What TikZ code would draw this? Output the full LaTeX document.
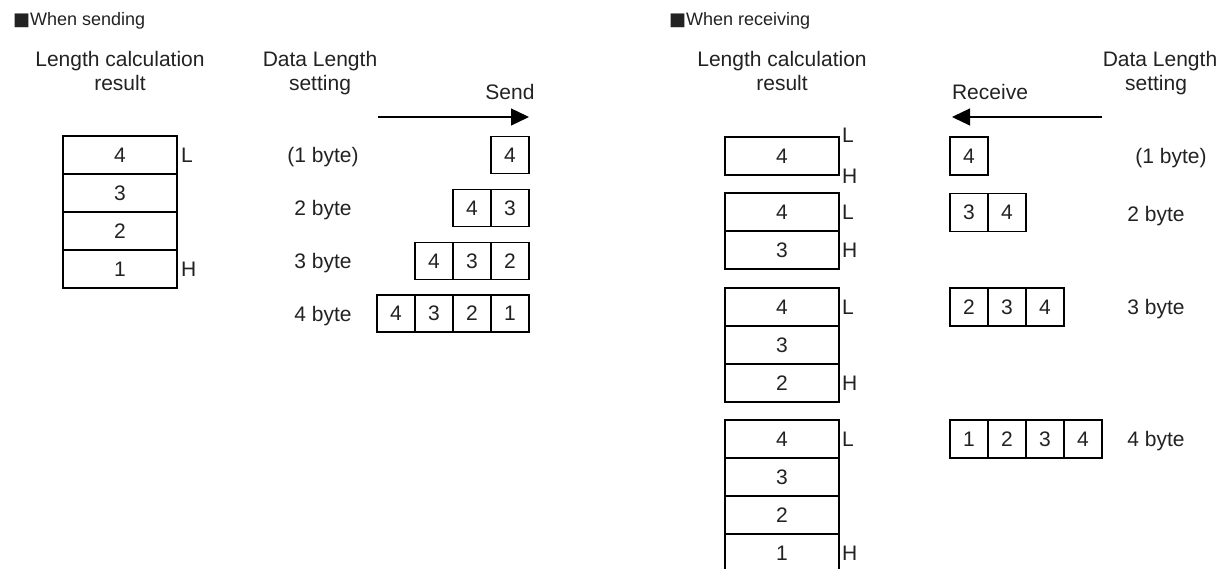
\documentclass[tikz,border=0pt]{standalone}
\usepackage{fontspec}
\setmainfont{Liberation Sans}
\newfontfamily\symfont{DejaVu Sans}
\usetikzlibrary{arrows.meta}
\definecolor{txt}{HTML}{222222}
\begin{document}
\begin{tikzpicture}[x=1pt,y=-1pt,
  cell/.style={draw=black,line width=1.3pt,minimum width=38pt,minimum height=38pt,inner sep=0pt,font=\fontsize{21}{24}\selectfont,text=txt},
  scell/.style={cell,minimum height=37pt},
  wide/.style={cell,minimum width=114pt},
  lbl/.style={font=\fontsize{21}{24}\selectfont,text=txt,inner sep=0pt},
  head/.style={font=\fontsize{18}{20}\selectfont,text=txt,inner sep=0pt,anchor=base west},
  flow/.style={line width=1.3pt,-{Triangle[length=18pt,width=17pt]}}]
\useasboundingbox (0,0) rectangle (1223,569);

% ---------- headings ----------
\node[head] (hs) at (13,26) {{\symfont ■}When sending};
\node[head] (hr) at (669,26) {{\symfont ■}When receiving};

% ---------- sending ----------
\node[lbl,anchor=base] (lcr1) at (120,67) {Length calculation};
\node[lbl,anchor=base] (lcr2) at (120,91) {result};
\node[lbl,anchor=base] (dls1) at (320,67) {Data Length};
\node[lbl,anchor=base] (dls2) at (320,91) {setting};
\node[lbl,anchor=base] (send) at (510,100) {Send};
\coordinate (sa) at (378,117);
\coordinate (sb) at (529,117);
\draw[flow] (sa) -- (sb);

\node[wide] (l4) at (120,155) {4};
\node[wide] (l3) at (120,193) {3};
\node[wide] (l2) at (120,231) {2};
\node[wide] (l1) at (120,269) {1};
\node[lbl,anchor=west] (lL) at (181,155) {L};
\node[lbl,anchor=west] (lH) at (181,269) {H};

\node[lbl,anchor=base] (sb1) at (323,162.5) {(1 byte)};
\node[lbl,anchor=base] (sb2) at (323,215.5) {2 byte};
\node[lbl,anchor=base] (sb3) at (323,268.5) {3 byte};
\node[lbl,anchor=base] (sb4) at (323,321) {4 byte};

\node[scell] (s1a) at (510,155) {4};

\node[scell] (s2a) at (472,208) {4};
\node[scell] (s2b) at (510,208) {3};

\node[scell] (s3a) at (434,261) {4};
\node[scell] (s3b) at (472,261) {3};
\node[scell] (s3c) at (510,261) {2};

\node[scell] (s4a) at (396,313.5) {4};
\node[scell] (s4b) at (434,313.5) {3};
\node[scell] (s4c) at (472,313.5) {2};
\node[scell] (s4d) at (510,313.5) {1};

% ---------- receiving ----------
\node[lbl,anchor=base] (rlc1) at (782,67) {Length calculation};
\node[lbl,anchor=base] (rlc2) at (782,91) {result};
\node[lbl,anchor=base] (rdl1) at (1160,67) {Data Length};
\node[lbl,anchor=base] (rdl2) at (1156,91) {setting};
\node[lbl,anchor=base] (recv) at (990,100) {Receive};
\coordinate (ra) at (1102,117);
\coordinate (rb) at (952,117);
\draw[flow] (ra) -- (rb);

% stack 1
\node[wide] (a1) at (782,156) {4};
\node[lbl,anchor=west] (a1L) at (842,135) {L};
\node[lbl,anchor=west] (a1H) at (842,176) {H};
% stack 2
\node[wide] (b1) at (782,212) {4};
\node[wide] (b2) at (782,250) {3};
\node[lbl,anchor=west] (b1L) at (842,212) {L};
\node[lbl,anchor=west] (b2H) at (842,250) {H};
% stack 3
\node[wide] (c1) at (782,307) {4};
\node[wide] (c2) at (782,345) {3};
\node[wide] (c3) at (782,383) {2};
\node[lbl,anchor=west] (c1L) at (842,307) {L};
\node[lbl,anchor=west] (c3H) at (842,383) {H};
% stack 4
\node[wide] (d1) at (782,439) {4};
\node[wide] (d2) at (782,477) {3};
\node[wide] (d3) at (782,515) {2};
\node[wide] (d4) at (782,553) {1};
\node[lbl,anchor=west] (d1L) at (842,439) {L};
\node[lbl,anchor=west] (d4H) at (842,553) {H};

% received data
\node[cell] (r1a) at (969,156) {4};

\node[cell] (r2a) at (969,212.5) {3};
\node[cell] (r2b) at (1007,212.5) {4};

\node[cell] (r3a) at (969,307) {2};
\node[cell] (r3b) at (1007,307) {3};
\node[cell] (r3c) at (1045,307) {4};

\node[cell] (r4a) at (969,439) {1};
\node[cell] (r4b) at (1007,439) {2};
\node[cell] (r4c) at (1045,439) {3};
\node[cell] (r4d) at (1083,439) {4};

\node[lbl,anchor=base] (rb1) at (1171,163.5) {(1 byte)};
\node[lbl,anchor=base] (rb2) at (1156,221.5) {2 byte};
\node[lbl,anchor=base] (rb3) at (1156,314.5) {3 byte};
\node[lbl,anchor=base] (rb4) at (1156,446.5) {4 byte};
\end{tikzpicture}
\end{document}
